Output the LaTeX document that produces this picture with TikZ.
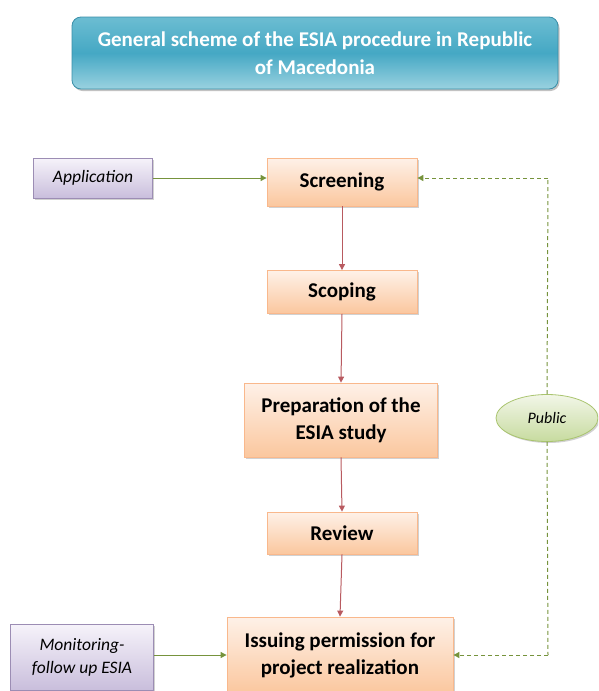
\documentclass[tikz,border=0pt]{standalone}
\usepackage{fontspec}
\setmainfont{Carlito}
\usetikzlibrary{shadows,arrows.meta,shapes.geometric}
\definecolor{orline}{HTML}{F9B88C}
\definecolor{ortop}{HTML}{FEF1E8}
\definecolor{orbot}{HTML}{FBC79E}
\definecolor{puline}{HTML}{9C8DB4}
\definecolor{putop}{HTML}{F6F3FA}
\definecolor{pubot}{HTML}{C9BEDC}
\definecolor{grline}{HTML}{A9C46E}
\definecolor{grtop}{HTML}{F2F6E8}
\definecolor{grbot}{HTML}{C7DB9F}
\definecolor{redarr}{HTML}{B85A60}
\definecolor{grarr}{HTML}{76933C}
\definecolor{titletop}{HTML}{6CBDD2}
\definecolor{titlemid}{HTML}{45A8C4}
\definecolor{titlebot}{HTML}{9AD2E0}
\definecolor{titleline}{HTML}{3A8FA8}
\tikzset{
  stepbox/.style={draw=orline, line width=0.8pt, top color=ortop, bottom color=orbot,
    font=\bfseries\fontsize{21}{27}\selectfont, align=center, inner sep=0pt,
    drop shadow={shadow xshift=1.5pt, shadow yshift=-1.5pt, fill=black!30, opacity=0.6}},
  inbox/.style={draw=puline, line width=0.8pt, top color=putop, bottom color=pubot,
    font=\itshape\fontsize{17.5}{23}\selectfont, align=center, inner sep=0pt,
    drop shadow={shadow xshift=1.5pt, shadow yshift=-1.5pt, fill=black!30, opacity=0.6}},
  flow/.style={redarr, line width=1pt, -{Triangle[length=6pt,width=6pt]}},
  feed/.style={grarr, line width=1pt, -{Triangle[length=6pt,width=6pt]}},
  pubdash/.style={grarr, line width=1pt, dash pattern=on 4pt off 3pt},
}
\begin{document}
\begin{tikzpicture}[x=1pt,y=-1pt]
\useasboundingbox (0,0) rectangle (598,691);
\clip (0,0) rectangle (598,691);
% title
\node[draw=titleline, line width=0.8pt, rounded corners=9pt, minimum width=486pt, minimum height=72pt,
  top color=titletop, bottom color=titlebot, middle color=titlemid,
  text=white, font=\bfseries\fontsize{21}{28}\selectfont, align=center,
  drop shadow={shadow xshift=1.5pt, shadow yshift=-2pt, fill=black!40, opacity=0.6}]
  (title) at (315,53) {General scheme of the ESIA procedure in Republic\\of Macedonia};
% boxes
\node[stepbox, minimum width=150pt, minimum height=48pt] (scr) at (342,182) {Screening};
\node[stepbox, minimum width=150pt, minimum height=43pt] (sco) at (342,292) {Scoping};
\node[stepbox, minimum width=193pt, minimum height=74pt] (prep) at (341,420) {Preparation of the\\ESIA study};
\node[stepbox, minimum width=150pt, minimum height=42pt] (rev) at (342,533) {Review};
\node[stepbox, minimum width=226pt, minimum height=76pt] (iss) at (340,655) {Issuing permission for\\project realization};
\node[inbox, minimum width=119pt, minimum height=40pt] (app) at (93,178) {Application};
\node[inbox, minimum width=143pt, minimum height=66pt] (mon) at (82,657) {Monitoring-\\follow up ESIA};
\node[ellipse, draw=grline, line width=0.8pt, top color=grtop, bottom color=grbot,
  minimum width=102pt, minimum height=47pt, inner sep=0pt, font=\itshape\fontsize{16}{20}\selectfont,
  drop shadow={shadow xshift=1.5pt, shadow yshift=-1.5pt, fill=black!30, opacity=0.6}]
  (pub) at (547,418) {Public};
% connectors
\coordinate (c1) at (548,178);
\coordinate (c2) at (548,655);
\draw[flow] (scr.south) -- (sco.north);
\draw[flow] (sco.south) -- (prep.north);
\draw[flow] (prep.south) -- (rev.north);
\draw[flow] (rev.south) -- (iss.north);
\draw[feed] (app.east) -- (app.east -| scr.west);
\draw[feed] (mon.east |- c2) -- (iss.west |- c2);
\draw[pubdash] (pub.north) -- (c1);
\draw[pubdash, -{Triangle[length=6pt,width=6pt]}] (c1) -- (c1 -| scr.east);
\draw[pubdash] (pub.south) -- (c2);
\draw[pubdash, -{Triangle[length=6pt,width=6pt]}] (c2) -- (c2 -| iss.east);
\end{tikzpicture}
\end{document}
